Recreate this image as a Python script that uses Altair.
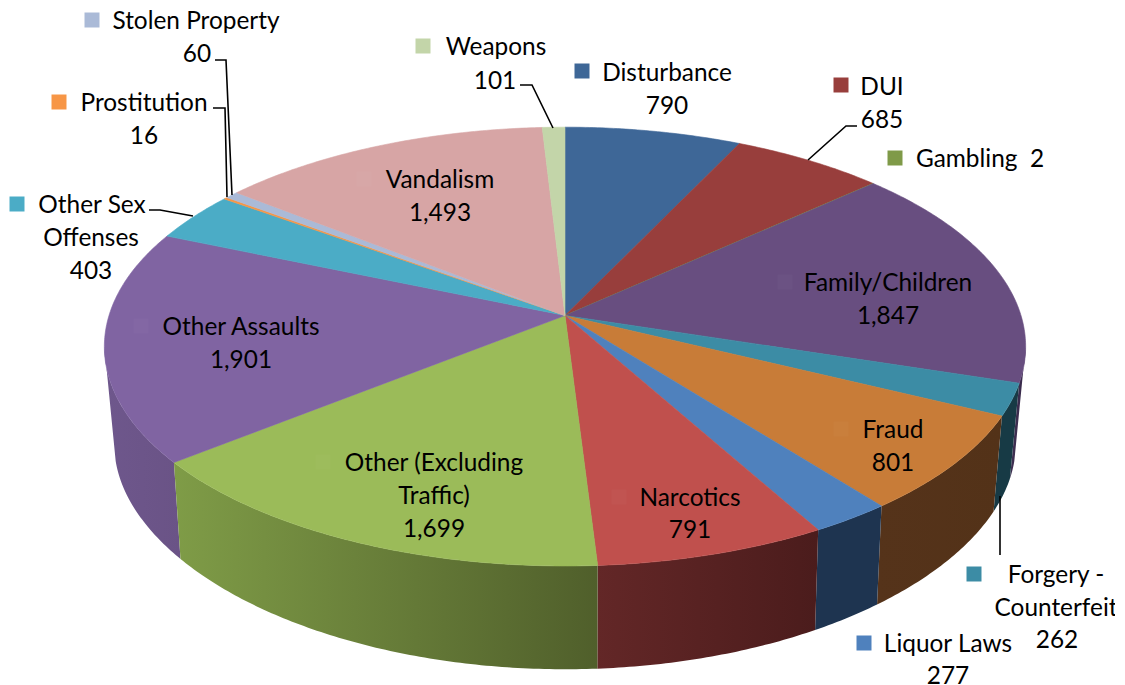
import math
import altair as alt

# ---- slice data (clockwise from 12 o'clock) ----
NAMES = ["Disturbance", "DUI", "Gambling", "Family/Children", "Forgery - Counterfeit", "Fraud",
         "Liquor Laws", "Narcotics", "Other (Excluding Traffic)", "Other Assaults",
         "Other Sex Offenses", "Prostitution", "Stolen Property", "Vandalism", "Weapons"]
VALUES = [790, 685, 2, 1847, 262, 801, 277, 791, 1699, 1901, 403, 16, 60, 1493, 101]
TOP_COLORS = ["#3E6797", "#983E3C", "#7F9A48", "#684E80", "#3C8CA5", "#C87C38", "#4F81BD", "#C0504D",
              "#9BBB59", "#8064A2", "#4BACC6", "#F79646", "#AABAD7", "#D7A5A5", "#C3D5A9"]
# wall gradients (left colour, right colour) in painter's order
WALLS = [("Family/Children", "#3F3052", "#38294A"),
         ("Other Assaults", "#6E578C", "#6A5386"),
         ("Forgery - Counterfeit", "#173A45", "#173A45"),
         ("Fraud", "#55331A", "#533218"),
         ("Liquor Laws", "#1E3450", "#1E3450"),
         ("Narcotics", "#632727", "#4B1C1C"),
         ("Other (Excluding Traffic)", "#7F9C47", "#505F2B")]

# ---- text labels ----
LABEL_TEXT = ["Stolen Property", "60", "Prostitution", "16", "Other Sex", "Offenses", "403", "Weapons", "101",
              "Disturbance", "790", "DUI", "685", "Gambling\u00a0\u00a02", "Family/Children", "1,847", "Vandalism", "1,493",
              "Other Assaults", "1,901", "Other (Excluding", "Traffic)", "1,699", "Narcotics", "791", "Fraud", "801",
              "Forgery -", "Counterfeit", "262", "Liquor Laws", "277"]
LABEL_X = [196, 197, 144, 144, 92, 91, 91, 496, 495, 667, 667, 882, 882, 980, 888, 888, 440, 440,
           241, 241, 434, 434, 434, 690, 690, 893, 893, 1056, 1056, 1057, 948, 948]
LABEL_Y = [22, 55, 104, 137, 206, 239, 272, 48, 82, 74, 107, 88, 121, 160, 284, 317, 181, 214,
           328, 361, 464, 497, 530, 499, 531, 431, 464, 576, 609, 641, 645, 677]

# ---- legend keys ----
KEY_NAMES = ["Stolen Property", "Prostitution", "Other Sex Offenses", "Weapons", "Disturbance", "DUI",
             "Gambling", "Forgery - Counterfeit", "Liquor Laws"]
KEY_X = [92, 59, 17, 423, 582, 841, 895, 974, 864]
KEY_Y = [20, 102, 204, 46, 71, 85, 158, 574, 643]
FAINT_KEY_X = [364, 141, 785, 323, 619, 841]
FAINT_KEY_Y = [179, 326, 282, 462, 497, 429]

# ---- leader lines ----
LEADER_ID = [0, 0, 0, 1, 1, 1, 2, 2, 2, 3, 3, 3, 4, 4, 4, 5, 5]
LEADER_X = [215, 226, 232, 213, 225, 227, 149, 160, 193, 520, 532, 553, 857, 846, 808, 1000, 1000]
LEADER_Y = [60, 60, 195, 108, 108, 197, 210, 210, 216, 85, 85, 128, 126, 126, 160, 496, 555]

WIDTH, HEIGHT = 1107, 677
OFFSET = 8


def top_rim(t):
    u, v = math.sin(t), math.cos(t)
    d = 1 + 0.1416 * v
    return [565 + 456 * u / d, 315.5 - 215 * v / d]


def bottom_rim(t):
    u, v = math.sin(t), math.cos(t)
    d = 1 + 0.2 * v
    return [565 + (446 + 25 * v) * u / d, 413 - 205 * v / d]


def arc(fn, a, b):
    n = max(2, int(abs(b - a) / 0.01))
    return [fn(a + (b - a) * i / n) for i in range(n + 1)]


def feature(name, ring):
    ring = ring + [ring[0]]
    return {"type": "Feature", "properties": {"name": name},
            "geometry": {"type": "Polygon", "coordinates": [ring]}}


total = sum(VALUES)
edges = [0.0]
for val in VALUES:
    edges.append(edges[-1] + val / total * 2 * math.pi)
angle = {n: (edges[i], edges[i + 1]) for i, n in enumerate(NAMES)}

proj = alt.Projection(type="identity", scale=1, translate=[-OFFSET, -OFFSET])
# where the visible wall leaves the rims (silhouette of the drum)
TOP_LO, TOP_HI = math.radians(98), math.radians(262)
BOT_LO, BOT_HI = math.radians(103), math.radians(257)

layers = []
for name, c0, c1 in WALLS:
    a, b = angle[name]
    ring = arc(top_rim, max(a, TOP_LO), min(b, TOP_HI)) + arc(bottom_rim, min(b, BOT_HI), max(a, BOT_LO))
    grad = alt.LinearGradient(gradient="linear", x1=0, x2=1, y1=0, y2=0,
                              stops=[alt.GradientStop(color=c0, offset=0), alt.GradientStop(color=c1, offset=1)])
    layers.append(alt.Chart(alt.Data(values=[feature(name, ring)]))
                  .mark_geoshape(fill=grad, strokeWidth=0).project(**proj.to_dict()))

faces = [feature(n, [[565, 315.5]] + arc(top_rim, *angle[n])) for n in NAMES]
color_scale = alt.Scale(domain=NAMES, range=TOP_COLORS)
layers.append(alt.Chart(alt.Data(values=faces)).mark_geoshape(strokeWidth=0.6).encode(
    fill=alt.Fill("properties.name:N", scale=color_scale, legend=None),
    stroke=alt.Stroke("properties.name:N", scale=color_scale, legend=None),
).project(**proj.to_dict()))

xs = alt.Scale(domain=[OFFSET, OFFSET + WIDTH], nice=False, zero=False)
ys = alt.Scale(domain=[OFFSET + HEIGHT, OFFSET], nice=False, zero=False)
X = lambda f: alt.X(f, type="quantitative", scale=xs, axis=None)
Y = lambda f: alt.Y(f, type="quantitative", scale=ys, axis=None)

layers.append(alt.Chart(alt.Data(values=[{"x": x, "y": y} for x, y in zip(FAINT_KEY_X, FAINT_KEY_Y)]))
              .mark_square(size=225, color="#FFFFFF", opacity=0.025).encode(x=X("x"), y=Y("y")))

layers.append(alt.Chart(alt.Data(values=[{"x": x, "y": y, "name": n} for x, y, n in zip(KEY_X, KEY_Y, KEY_NAMES)]))
              .mark_square(size=225, opacity=1, strokeWidth=0).encode(
    x=X("x"), y=Y("y"), fill=alt.Fill("name:N", scale=color_scale, legend=None)))

layers.append(alt.Chart(alt.Data(values=[{"id": i, "o": k, "x": x, "y": y}
                                         for k, (i, x, y) in enumerate(zip(LEADER_ID, LEADER_X, LEADER_Y))]))
              .mark_line(color="#000000", strokeWidth=1.6).encode(
    x=X("x"), y=Y("y"), detail="id:N", order="o:Q"))

layers.append(alt.Chart(alt.Data(values=[{"t": t, "x": x, "y": y} for t, x, y in zip(LABEL_TEXT, LABEL_X, LABEL_Y)]))
              .mark_text(font="Lato", fontSize=24.4, color="#000000", align="center", baseline="middle").encode(
    x=X("x"), y=Y("y"), text="t:N"))

chart = alt.layer(*layers).resolve_scale(fill="shared", stroke="shared").properties(
    width=WIDTH, height=HEIGHT, padding=0, autosize=alt.AutoSizeParams(type="none"),
).configure_view(stroke=None)

chart.save("out.html", embed_options={"renderer": "svg", "actions": False})
